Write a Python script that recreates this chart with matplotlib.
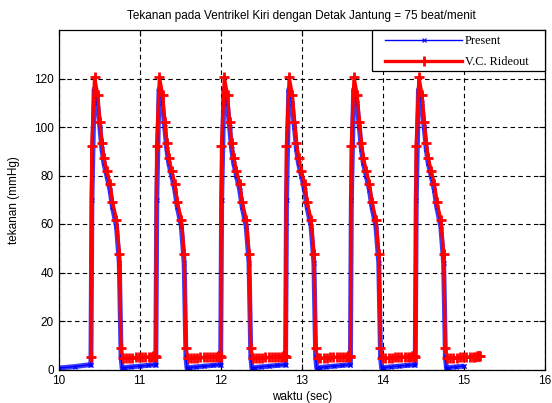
import numpy as np
import matplotlib
matplotlib.use("Agg")
import matplotlib.pyplot as plt
from matplotlib.patches import Rectangle

# Beat onset times (s), 75 beat/min
beat_onsets = [10.40, 11.20, 12.00, 12.80, 13.60, 14.40]

# One beat of the V.C. Rideout waveform (time after onset, mmHg)
rideout_dt = [0.000, 0.010, 0.045, 0.085, 0.110, 0.135, 0.160, 0.195, 0.235, 0.265,
              0.315, 0.350, 0.370, 0.395, 0.430, 0.470, 0.510, 0.550, 0.590, 0.630,
              0.670, 0.710, 0.740, 0.765, 0.775, 0.785, 0.790]
rideout_p = [5.3, 92.0, 120.5, 113.0, 102.0, 93.4, 87.3, 82.0, 76.6, 69.2,
             61.8, 47.6, 8.8, 4.6, 4.7, 4.8, 4.9, 5.0, 5.0, 5.1,
             5.2, 5.2, 5.3, 5.4, 5.5, 5.5, 5.5]

# One beat of the "Present" waveform (time after onset, mmHg)
present_dt = [0.000, 0.012, 0.040, 0.080, 0.110, 0.135, 0.160, 0.195, 0.235, 0.265,
              0.315, 0.350, 0.372, 0.385, 0.420, 0.500, 0.600, 0.700, 0.790]
present_p = [2.0, 70.0, 115.5, 110.0, 100.0, 91.0, 85.0, 80.0, 74.0, 67.0,
             59.0, 44.0, 5.0, 0.5, 0.8, 1.1, 1.4, 1.7, 2.0]

# Baseline of "Present" before the first beat
present_start_t = [10.00, 10.20, 10.39]
present_start_p = [0.6, 1.2, 2.0]
present_end_dt = 0.60  # Present trace stops 0.6 s after last onset
rideout_end_dt = 0.80  # Rideout trace stops 0.8 s after last onset

title = "Tekanan pada Ventrikel Kiri dengan Detak Jantung = 75 beat/menit"
xlabel = "waktu (sec)"
ylabel = "tekanan (mmHg)"
xticks = [10, 11, 12, 13, 14, 15, 16]
yticks = [0, 20, 40, 60, 80, 100, 120]

# build series
rt, rp = [], []
for t0 in beat_onsets:
    for dt, p in zip(rideout_dt, rideout_p):
        rt.append(t0 + dt)
        rp.append(p)
rt.append(beat_onsets[-1] + rideout_end_dt)
rp.append(5.5)

pt, pp = list(present_start_t), list(present_start_p)
for i, t0 in enumerate(beat_onsets):
    for dt, p in zip(present_dt, present_p):
        if i == len(beat_onsets) - 1 and dt > present_end_dt:
            break
        pt.append(t0 + dt)
        pp.append(p)
pt.append(beat_onsets[-1] + present_end_dt)
pp.append(1.4)

plt.rcParams['font.family'] = ['Liberation Sans', 'DejaVu Sans']
fig = plt.figure(figsize=(5.52, 4.03), dpi=100)
ax = fig.add_axes([58.5/552, 33.5/403, (545-58.5)/552, (369.5-30)/403])

# Present: thick blue band plus thin line with x markers
ax.plot(pt, pp, color='#1a1aff', lw=3.6, alpha=0.85, solid_capstyle='butt')
ax.plot(pt, pp, color='blue', lw=1.0, marker='x', ms=3, mew=0.8,
        label='Present')
ax.plot(rt, rp, color='red', lw=2.4, marker='+', ms=7, mew=2.0,
        label='V.C. Rideout')

ax.set_xlim(10, 16)
ax.set_ylim(0, 140)
ax.set_xticks(xticks)
ax.set_yticks(yticks)
ax.tick_params(direction='in', length=4, width=0.8, labelsize=8.5, colors='black',
               top=True, right=True)
ax.tick_params(axis='x', pad=4)
ax.grid(True, color='black', linestyle=(0, (4, 3)), lw=0.8)
for s in ax.spines.values():
    s.set_linewidth(0.9)

ax.set_title(title, fontsize=8.5, pad=8)
ax.set_xlabel(xlabel, fontsize=8.5, labelpad=3)
ax.set_ylabel(ylabel, fontsize=8.5, labelpad=10)

# legend frame drawn as a separate box (wider than the entries)
x0 = (372 - 58.5) / 486.5
y0 = (369.5 - 71) / 339.5
ax.add_patch(Rectangle((x0, y0), 1 - x0, 1 - y0, transform=ax.transAxes,
                       facecolor='white', edgecolor='black', lw=0.9,
                       zorder=4.9, clip_on=False))
leg = ax.legend(loc='upper left',
                bbox_to_anchor=((385 - 58.5) / 486.5, (369.5 - 35) / 339.5),
                borderaxespad=0, borderpad=0, frameon=False,
                prop={'family': 'Liberation Serif', 'size': 8.8},
                handlelength=6.3, labelspacing=0.75, handletextpad=0.25)
leg.set_zorder(5)

fig.savefig("out.png", dpi=100)
